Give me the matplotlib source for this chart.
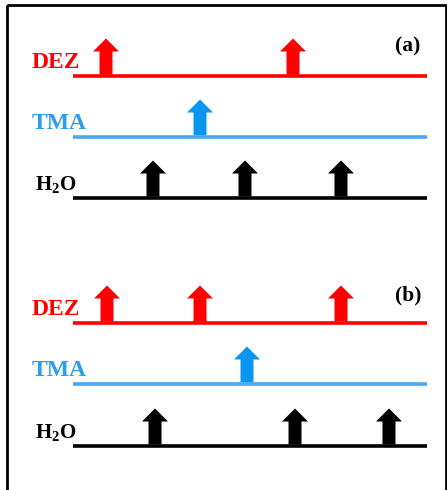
import matplotlib
matplotlib.use("Agg")
import matplotlib.pyplot as plt
from matplotlib.patches import Rectangle

plt.rcParams["font.family"] = ["Liberation Serif", "DejaVu Serif"]
plt.rcParams["mathtext.fontset"] = "custom"
plt.rcParams["mathtext.bf"] = "Liberation Serif:bold"
plt.rcParams["mathtext.rm"] = "Liberation Serif:bold"

# pulse positions along the time line (same scale as the line, 73..427)
precursores = ["DEZ", "TMA", "H$_2$O"]
pulsos_a = {"DEZ": [106, 293], "TMA": [200], "H$_2$O": [153, 245, 341]}
pulsos_b = {"DEZ": [107, 200, 341], "TMA": [247], "H$_2$O": [155, 295, 389]}
paineis = ["(a)", "(b)"]

cor_linha = {"DEZ": "#ff0000", "TMA": "#4aa8f0", "H$_2$O": "#000000"}
cor_seta = {"DEZ": "#ff0000", "TMA": "#0a96f0", "H$_2$O": "#000000"}
cor_texto = {"DEZ": "#ff0000", "TMA": "#2a9df0", "H$_2$O": "#000000"}

fig = plt.figure(figsize=(4.47, 4.90), dpi=100)
ax = fig.add_axes([0, 0, 1, 1])
ax.set_xlim(0, 447)
ax.set_ylim(490, 0)
ax.axis("off")

# moldura
ax.add_patch(Rectangle((7, 5), 439, 500, fill=False, edgecolor="black",
                       linewidth=2.0, joinstyle="miter", clip_on=False))


def desenhar_painel(y_linhas, pulsos, rotulo, y_rotulo):
    for nome, y in zip(precursores, y_linhas):
        ax.plot([73, 427], [y, y], color=cor_linha[nome], linewidth=2.6,
                solid_capstyle="butt")
        for x in pulsos[nome]:
            ax.arrow(x, y - 1.5, 0, -36, width=13, head_width=26,
                     head_length=13, length_includes_head=True,
                     color=cor_seta[nome], linewidth=0)
        if nome == "H$_2$O":
            ax.text(35, y - 13, nome, color=cor_texto[nome], fontsize=15,
                    fontweight="bold", ha="left", va="center")
        else:
            ax.text(32, y - 14, nome, color=cor_texto[nome], fontsize=17,
                    fontweight="bold", ha="left", va="center")
    ax.text(408, y_rotulo, rotulo, fontsize=15.5, fontweight="bold",
            ha="center", va="center")


desenhar_painel([76, 137, 198], pulsos_a, paineis[0], 46)
desenhar_painel([323, 384, 446], pulsos_b, paineis[1], 295)

fig.savefig("out.png", dpi=100)
